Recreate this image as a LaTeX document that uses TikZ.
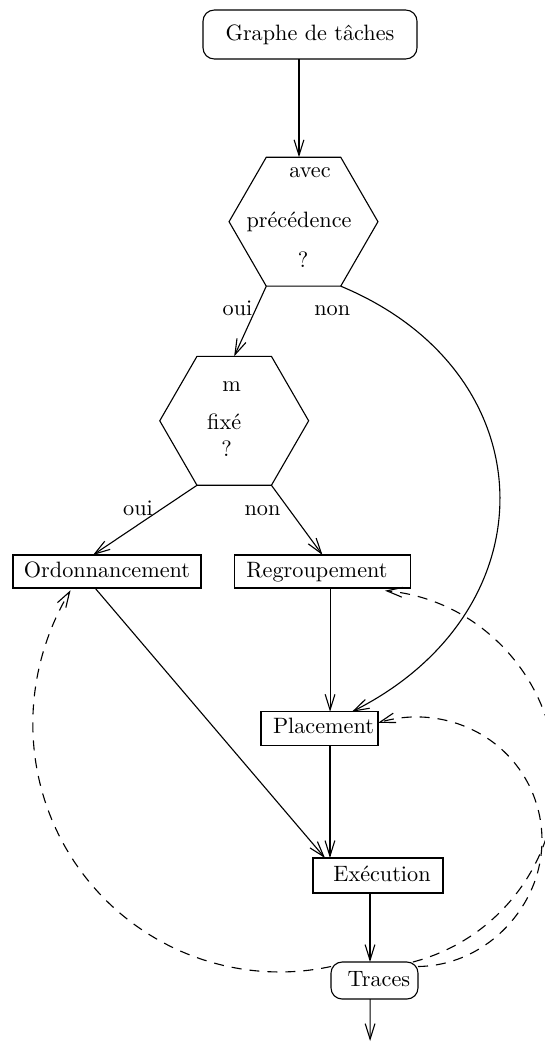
\documentclass[tikz,border=0pt]{standalone}
\usetikzlibrary{arrows.meta,shapes.geometric}
\begin{document}
\begin{tikzpicture}[x=0.45pt,y=-0.45pt,
  line width=0.5pt,
  arr/.style={-{Straight Barb[length=7pt,width=4.4pt]}},
  fbk/.style={dash pattern=on 4.5pt off 3.6pt},
  box/.style={draw, inner sep=0pt, outer sep=0pt, text height=6.94pt, text depth=1.94pt},
  rbox/.style={box, rounded corners=5pt},
  hexa/.style={draw, regular polygon, regular polygon sides=6, minimum size=67pt, inner sep=0pt, outer sep=0pt},
  lbl/.style={anchor=base, inner sep=0pt}]
\useasboundingbox (0,0) rectangle (545,1045);

% boxes
\node[rbox, minimum width=96.3pt, minimum height=22pt] (g) at (310,34.5) {Graphe de tâches};
\node[box, minimum width=84.6pt, minimum height=14.85pt] (ord) at (107,571.5) {Ordonnancement};
\node[box, minimum width=79.2pt, minimum height=14.85pt] (reg) at (322.5,571.5) {Regroupement\hspace*{5pt}};
\node[box, minimum width=52.65pt, minimum height=15pt] (plac) at (319.5,728.4) {\hspace*{3.6pt}Placement};
\node[box, minimum width=58.5pt, minimum height=15.75pt] (exe) at (378,875.5) {\hspace*{3.6pt}Exécution};
\node[rbox, minimum width=39.15pt, minimum height=16.65pt] (tr) at (374.5,980.5) {\hspace*{4pt}Traces};

% decisions
\node[hexa] (h1) at (303.5,221.7) {};
\node[lbl] (h1a) at (310,177) {avec};
\node[lbl] (h1b) at (299,227) {précédence};
\node[lbl] (h1c) at (303,267) {?};
\node[hexa] (h2) at (234.2,420.8) {};
\node[lbl] (h2a) at (231.7,391.7) {m};
\node[lbl] (h2b) at (224.2,429) {fixé};
\node[lbl] (h2c) at (226.7,456.7) {?};

% branch labels
\node[lbl] (l1) at (237.5,315) {oui};
\node[lbl] (l2) at (332.3,315) {non};
\node[lbl] (l3) at (138,515) {oui};
\node[lbl] (l4) at (262.5,515) {non};

% main flow
\coordinate (ga) at ([xshift=-4.95pt]g.south);
\draw[arr] (ga) -- (ga |- h1.north);
\draw[arr] (h1.corner 4) -- (h2.north);
\draw[arr] (h1.corner 5) .. controls (548.7,372.6) and (552.7,610.6) .. ([xshift=14.6pt]plac.north);
\draw[arr] (h2.corner 4) -- ([xshift=-6.3pt]ord.north);
\draw[arr] (h2.corner 5) -- (reg.north);
\coordinate (ra) at ([xshift=3.4pt]reg.south);
\draw[arr] (ra) -- (ra |- plac.north);
\coordinate (pa) at ([xshift=4.7pt]plac.south);
\draw[arr] (pa) -- (pa |- exe.north);
\draw[arr] ([xshift=-5.4pt]ord.south) -- ([xshift=-23.85pt]exe.north);
\coordinate (ea) at ([xshift=-3.6pt]exe.south);
\draw[arr] (ea) -- (ea |- tr.north);
\coordinate (ta) at ([xshift=-2pt]tr.south);
\coordinate (out) at (370.1,1041);
\draw[arr] (ta) -- (out);

% feedback from the traces
\draw[arr, fbk] ([yshift=6.3pt]tr.west) .. controls (234.5,987.2) and (134.6,947.9) .. (77.7,866.7)
  .. controls (20.8,785.5) and (18.0,678.1) .. ([xshift=-16.4pt,yshift=-1pt]ord.south);
\draw[arr, fbk] ([xshift=-2.3pt]tr.north east) .. controls (501.9,938.7) and (562.4,855.4) .. (555.5,763.9)
  .. controls (548.6,672.4) and (476.4,599.1) .. ([xshift=28.1pt,yshift=-1.2pt]reg.south);
\draw[arr, fbk] ([yshift=6.3pt]tr.east) .. controls (466.9,966) and (510.9,935.0) .. (531.1,890.4)
  .. controls (551.3,845.8) and (542.9,793.4) .. (509.8,757.4)
  .. controls (476.7,721.4) and (425.2,708.7) .. ([yshift=2.5pt]plac.east);
\end{tikzpicture}
\end{document}
